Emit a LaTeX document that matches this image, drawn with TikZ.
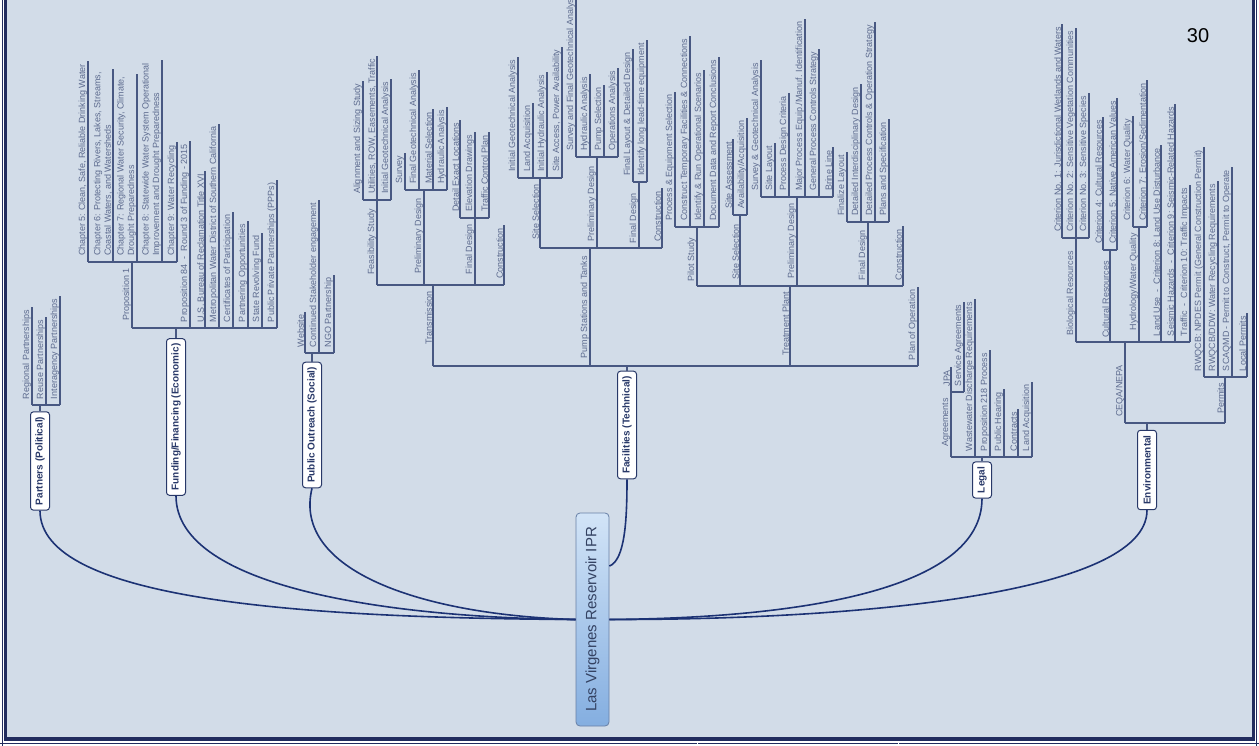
\documentclass[tikz,border=0pt]{standalone}
\usepackage{fontspec}
\setmainfont{Liberation Sans}
\usetikzlibrary{calc}

\definecolor{pagebg}{RGB}{210,220,232}
\definecolor{framec}{RGB}{34,44,94}
\definecolor{stemc}{RGB}{72,88,130}
\definecolor{twigc}{RGB}{92,106,142}
\definecolor{limbc}{RGB}{28,50,116}
\definecolor{boxc}{RGB}{40,56,104}
\definecolor{rootlight}{RGB}{210,228,247}
\definecolor{rootdark}{RGB}{132,174,224}
\definecolor{rootline}{RGB}{104,128,166}
\definecolor{rootink}{RGB}{52,66,98}

% a topic without subtopics: [gap]{name}{x of its line}{spine}{text}
\newcommand{\twig}[5][3]{%
  \node[twig, anchor=south west] (#2) at ($(#4)+(#3,-#1)$) {#5};
  \draw[stemline] (#2.south |- #4) -- (#2.south east);}
% a topic with subtopics: [gap]{name}{x of its line}{spine}{spine of its subtopics}{text}
\newcommand{\bough}[6][3]{%
  \node[twig, anchor=south east] (#2) at ($(#5)+(#3,#1)$) {#6};
  \draw[stemline] (#2.south |- #4) -- (#2.south |- #5);}

\begin{document}
\begin{tikzpicture}[x=1pt, y=-1pt,
  twig/.style={rotate=90, inner xsep=3pt, inner ysep=1pt, outer sep=0pt, align=left,
    text=twigc, font=\fontsize{9}{10.5}\selectfont},
  stemline/.style={draw=stemc, line width=1.1pt},
  limbline/.style={draw=limbc, line width=1.6pt},
  branchbox/.style={rotate=90, draw=boxc, line width=1pt, fill=white, rounded corners=3pt,
    inner xsep=5pt, inner ysep=2pt, minimum height=19pt, text=boxc,
    font=\bfseries\fontsize{10}{12}\selectfont},
  rootbox/.style={rotate=90, draw=rootline, line width=0.8pt, rounded corners=4pt,
    top color=rootlight, bottom color=rootdark, minimum width=213pt, minimum height=33pt,
    text=rootink, font=\fontsize{15}{18}\selectfont}]

\useasboundingbox (0,0) rectangle (1259,746);
\fill[white] (0,0) rectangle (1259,746);
\fill[pagebg] (7,0) rectangle (1252,737);

% page frame
\draw[framec, line width=3.5pt] (5.5,0) -- (5.5,739) -- (1253.5,739) -- (1253.5,0);
\draw[framec, line width=1pt] (2.2,0) -- (2.2,746);
\draw[framec, line width=1pt] (1256.8,0) -- (1256.8,746);
\draw[framec, line width=1.6pt] (0,743.5) -- (1259,743.5);
\draw[white, line width=1pt] (697,742) -- (697,746) (898,742) -- (898,746);

\node[font=\fontsize{20}{20}\selectfont] (pageno) at (1198,36) {30};

% the central topic and the main branches
\node[rootbox] (root) at (592.5,619.5) {Las Virgenes Reservoir IPR};
\node[branchbox] (part) at (40,461) {Partners (Political)};
\node[branchbox] (fund) at (176,417) {Funding/Financing (Economic)};
\node[branchbox] (pub) at (312,425) {Public Outreach (Social)};
\node[branchbox] (fac) at (627,425) {Facilities (Technical)};
\node[branchbox] (legal) at (982,480) {Legal};
\node[branchbox] (env) at (1147,470) {Environmental};

\draw[limbline] (root.north) .. controls (300,618) and (40,600) .. (part.west);
\draw[limbline] (root.north) .. controls (400,618) and (176,590) .. (fund.west);
\draw[limbline] (root.north) .. controls (420,615) and (292,570) .. (pub.west);
\draw[limbline] ($(root.south)!0.5!(root.south east)$) .. controls (625,560) and (627,520) .. (fac.west);
\draw[limbline] (root.south) .. controls (800,618) and (982,590) .. (legal.west);
\draw[limbline] (root.south) .. controls (850,620) and (1147,595) .. (env.west);

% Partners
\coordinate (part-s) at (0,405);
\twig{regp}{32}{part-s}{Regional Partnerships}
\twig{reusep}{46}{part-s}{Reuse Partnerships}
\twig{interp}{60}{part-s}{Interagency Partnerships}
\draw[stemline] (regp.south |- part-s) -- (interp.south |- part-s);
\draw[stemline] (part.east) -- (part.east |- part-s);

% Funding
\coordinate (fund-s) at (0,328);
\coordinate (prop1-s) at (0,262);
\bough{prop1}{132}{fund-s}{prop1-s}{Proposition 1}
\twig{ch5}{88}{prop1-s}{Chapter 5: Clean, Safe, Reliable Drinking Water}
\twig{ch6}{113}{prop1-s}{Chapter 6: Protecting Rivers, Lakes, Streams,\\Coastal Waters, and Watersheds}
\twig{ch7}{137}{prop1-s}{Chapter 7: Regional Water Security, Climate,\\Drought Preparedness}
\twig{ch8}{162}{prop1-s}{Chapter 8: Statewide Water System Operational\\Improvement and Drought Preparedness}
\twig{ch9}{177}{prop1-s}{Chapter 9: Water Recycling}
\draw[stemline] (ch5.south |- prop1-s) -- (ch9.south |- prop1-s);
\twig{prop84}{190}{fund-s}{Proposition 84 ~-~ Round 3 of Funding - 2015}
\twig{usbr}{205}{fund-s}{U.S. Bureau of Reclamation Title XVI}
\twig{mwd}{219}{fund-s}{Metropolitan Water District of Southern California}
\twig{cop}{233}{fund-s}{Certificates of Participation}
\twig{partop}{248}{fund-s}{Partnering Opportunities}
\twig{srf}{262}{fund-s}{State Revolving Fund}
\twig{ppp}{277}{fund-s}{Public Private Partnerships (PPPs)}
\draw[stemline] (prop1.south |- fund-s) -- (ppp.south |- fund-s);
\draw[stemline] (fund.east) -- (fund.east |- fund-s);

% Public Outreach
\coordinate (pub-s) at (0,353);
\twig{web}{305}{pub-s}{Website}
\twig{stake}{319}{pub-s}{Continued Stakeholder engagement}
\twig{ngo}{334}{pub-s}{NGO Partnership}
\draw[stemline] (web.south |- pub-s) -- (ngo.south |- pub-s);
\draw[stemline] (pub.east) -- (pub.east |- pub-s);

% Facilities
\coordinate (fac-s) at (0,366);
\coordinate (trans-s) at (0,285);
\coordinate (feas-s) at (0,200);
\coordinate (tpre-s) at (0,190);
\coordinate (tfin-s) at (0,218);
\bough{trans}{433}{fac-s}{trans-s}{Transmission}
\bough[6]{feas}{377}{trans-s}{feas-s}{Feasibility Study}
\twig{sizing}{363}{feas-s}{Alignment and Sizing Study}
\twig{utils}{377}{feas-s}{Utilities, ROW, Easements, Traffic}
\twig{tgeo}{391}{feas-s}{Initial Geotechnical Analysis}
\draw[stemline] (sizing.south |- feas-s) -- (tgeo.south |- feas-s);
\bough[5]{tpre}{424}{trans-s}{tpre-s}{Preliminary Design}
\twig{tsurv}{405}{tpre-s}{Survey}
\twig{tfgeo}{419}{tpre-s}{Final Geotechnical Analysis}
\twig{tmat}{433}{tpre-s}{Material Selection}
\twig{thyd}{447}{tpre-s}{Hydraulic Analysis}
\draw[stemline] (tsurv.south |- tpre-s) -- (thyd.south |- tpre-s);
\bough{tfin}{475}{trans-s}{tfin-s}{Final Design}
\twig{tdet}{460}{tfin-s}{Detail Exact Locations}
\twig{telev}{475}{tfin-s}{Elevation Drawings}
\twig{ttraf}{489}{tfin-s}{Traffic Control Plan}
\draw[stemline] (tdet.south |- tfin-s) -- (ttraf.south |- tfin-s);
\twig{tcons}{504}{trans-s}{Construction}
\draw[stemline] (feas.south |- trans-s) -- (tcons.south |- trans-s);

\coordinate (pump-s) at (0,248);
\coordinate (psite-s) at (0,178);
\coordinate (ppre-s) at (0,157);
\coordinate (pfin-s) at (0,182);
\bough[5]{pump}{590}{fac-s}{pump-s}{Pump Stations and Tanks}
\bough{psite}{540}{pump-s}{psite-s}{Site Selection}
\twig{pgeo}{518}{psite-s}{Initial Geotechnical Analysis}
\twig{pland}{533}{psite-s}{Land Acquisition}
\twig{phyd}{547}{psite-s}{Initial Hydraulic Analysis}
\twig{paccess}{562}{psite-s}{Site Access, Power Availability}
\draw[stemline] (pgeo.south |- psite-s) -- (paccess.south |- psite-s);
\bough[6]{ppre}{597}{pump-s}{ppre-s}{Preliminary Design}
\twig{psurv}{576}{ppre-s}{Survey and Final Geotechnical Analysis}
\twig{phydr}{590}{ppre-s}{Hydraulic Analysis}
\twig{ppsel}{604}{ppre-s}{Pump Selection}
\twig{pops}{618}{ppre-s}{Operations Analysis}
\draw[stemline] (psurv.south |- ppre-s) -- (pops.south |- ppre-s);
\bough[8]{pfin}{639}{pump-s}{pfin-s}{Final Design}
\twig{playout}{633}{pfin-s}{Final Layout \& Detailed Design}
\twig{plead}{647}{pfin-s}{Identify long lead-time equipment}
\draw[stemline] (playout.south |- pfin-s) -- (plead.south |- pfin-s);
\twig{pcons}{662}{pump-s}{Construction}
\draw[stemline] (psite.south |- pump-s) -- (pcons.south |- pump-s);

\coordinate (treat-s) at (0,286);
\coordinate (pilot-s) at (0,227);
\coordinate (tsite-s) at (0,215);
\coordinate (tppre-s) at (0,197);
\coordinate (tpfin-s) at (0,222);
\bough{treat}{790}{fac-s}{treat-s}{Treatment Plant}
\bough[8]{pilot}{697}{treat-s}{pilot-s}{Pilot Study}
\twig{proc}{675}{pilot-s}{Process \& Equipment Selection}
\twig{ctemp}{690}{pilot-s}{Construct Temporary Facilities \& Connections}
\twig{irun}{704}{pilot-s}{Identify \& Run Operational Scenarios}
\twig{ddoc}{719}{pilot-s}{Document Data and Report Conclusions}
\draw[stemline] (proc.south |- pilot-s) -- (ddoc.south |- pilot-s);
\bough[6]{tsite}{740}{treat-s}{tsite-s}{Site Selection}
\twig{sassess}{733}{tsite-s}{Site Assessment}
\twig{avail}{747}{tsite-s}{Availability/Acquisition}
\draw[stemline] (sassess.south |- tsite-s) -- (avail.south |- tsite-s);
\bough{tppre}{797}{treat-s}{tppre-s}{Preliminary Design}
\twig{tpsurv}{761}{tppre-s}{Survey \& Geotechnical Analysis}
\twig{tplay}{775}{tppre-s}{Site Layout}
\twig{tpcrit}{789}{tppre-s}{Process Design Criteria}
\twig{tpmaj}{805}{tppre-s}{Major Process Equip./Manuf. Identification}
\twig{tpgen}{819}{tppre-s}{General Process Controls Strategy}
\twig{tpbrine}{833}{tppre-s}{Brine Line}
\draw[stemline] (tpsurv.south |- tppre-s) -- (tpbrine.south |- tppre-s);
\bough[5]{tpfin}{868}{treat-s}{tpfin-s}{Final Design}
\twig{tpfinal}{847}{tpfin-s}{Finalize Layout}
\twig{tpinter}{861}{tpfin-s}{Detailed Interdisciplinary Design}
\twig{tpctrl}{875}{tpfin-s}{Detailed Process Controls \& Operation Strategy}
\twig{tpplans}{889}{tpfin-s}{Plans and Specification}
\draw[stemline] (tpfinal.south |- tpfin-s) -- (tpplans.south |- tpfin-s);
\twig{tpcons}{903}{treat-s}{Construction}
\draw[stemline] (pilot.south |- treat-s) -- (tpcons.south |- treat-s);

\twig{planop}{918}{fac-s}{Plan of Operation}
\draw[stemline] (trans.south |- fac-s) -- (planop.south |- fac-s);
\draw[stemline] (fac.east) -- (fac.east |- fac-s);

% Legal
\coordinate (leg-s) at (0,457);
\coordinate (agr-s) at (0,392);
\bough{agree}{951}{leg-s}{agr-s}{Agreements}
\twig{jpa}{951}{agr-s}{JPA}
\twig{svc}{964}{agr-s}{Service Agreements}
\draw[stemline] (jpa.south |- agr-s) -- (svc.south |- agr-s);
\twig{wdr}{975}{leg-s}{Wastewater Discharge Requirements}
\twig{p218}{990}{leg-s}{Proposition 218 Process}
\twig{phear}{1004}{leg-s}{Public Hearing}
\twig{contr}{1018}{leg-s}{Contracts}
\twig{landacq}{1032}{leg-s}{Land Acquisition}
\draw[stemline] (agree.south |- leg-s) -- (landacq.south |- leg-s);
\draw[stemline] (legal.east) -- (legal.east |- leg-s);

% Environmental
\coordinate (env-s) at (0,423);
\coordinate (ceqa-s) at (0,342);
\coordinate (bio-s) at (0,238);
\coordinate (cult-s) at (0,250);
\coordinate (hydro-s) at (0,227);
\coordinate (perm-s) at (0,377);
\bough[20]{ceqa}{1125}{env-s}{ceqa-s}{CEQA/NEPA}
\bough[10]{bio}{1076}{ceqa-s}{bio-s}{Biological Resources}
\twig{crit1}{1062}{bio-s}{Criterion No. 1: Jurisdictional Wetlands and Waters}
\twig{crit2}{1076}{bio-s}{Criterion No. 2: Sensitive Vegetation Communities}
\twig{crit3}{1089}{bio-s}{Criterion No. 3: Sensitive Species}
\draw[stemline] (crit1.south |- bio-s) -- (crit3.south |- bio-s);
\bough[8]{cult}{1110}{ceqa-s}{cult-s}{Cultural Resources}
\twig{crit4}{1103}{cult-s}{Criterion 4: Cultural Resources}
\twig{crit5}{1117}{cult-s}{Criterion 5: Native American Values}
\draw[stemline] (crit4.south |- cult-s) -- (crit5.south |- cult-s);
\bough{hydro}{1139}{ceqa-s}{hydro-s}{Hydrology/Water Quality}
\twig{crit6}{1133}{hydro-s}{Criterion 6: Water Quality}
\twig{crit7}{1147}{hydro-s}{Criterion 7: Erosion/Sedimentation}
\draw[stemline] (crit6.south |- hydro-s) -- (crit7.south |- hydro-s);
\twig{landuse}{1161}{ceqa-s}{Land Use ~-~ Criterion 8: Land Use Disturbance}
\twig{seismic}{1175}{ceqa-s}{Seismic Hazards ~-~ Criterion 9: Seismic-Related Hazards}
\twig{traffic}{1190}{ceqa-s}{Traffic ~-~ Criterion 10: Traffic Impacts}
\draw[stemline] (bio.south |- ceqa-s) -- (traffic.south |- ceqa-s);
\bough{permits}{1225}{env-s}{perm-s}{Permits}
\twig{npdes}{1204}{perm-s}{RWQCB: NPDES Permit (General Construction Permit)}
\twig{recyc}{1218}{perm-s}{RWQCB/DDW: Water Recycling Requirements}
\twig{scaqmd}{1232}{perm-s}{SCAQMD - Permit to Construct, Permit to Operate}
\twig{localp}{1247}{perm-s}{Local Permits}
\draw[stemline] (npdes.south |- perm-s) -- (localp.south |- perm-s);
\draw[stemline] (ceqa.south |- env-s) -- (permits.south |- env-s);
\draw[stemline] (env.east) -- (env.east |- env-s);

\end{tikzpicture}
\end{document}
